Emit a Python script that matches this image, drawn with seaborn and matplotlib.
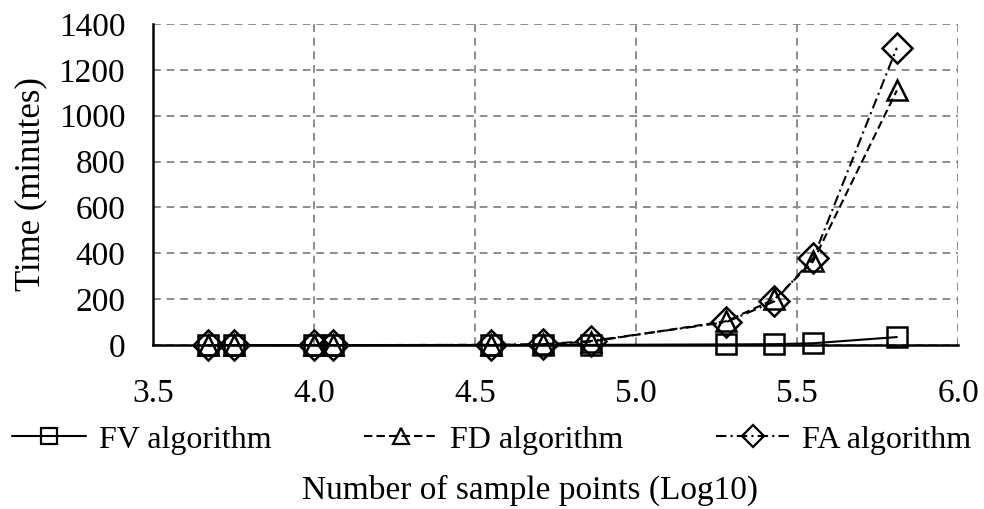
import pandas as pd
import seaborn as sns
import matplotlib.pyplot as plt

# Values
log_n = [3.67, 3.75, 4.0, 4.06, 4.55, 4.71, 4.86, 5.28, 5.43, 5.55, 5.81]
fv_time = [0, 0, 0, 0, 0, 0, 1, 3, 4, 8, 35]
fd_time = [0, 0, 0, 0, 1, 3, 15, 104, 200, 365, 1110]
fa_time = [0, 0, 0, 0, 1, 4, 18, 100, 191, 378, 1296]
series_names = ["FV algorithm", "FD algorithm", "FA algorithm"]

df = pd.DataFrame({
    "x": log_n * 3,
    "time": fv_time + fd_time + fa_time,
    "algo": [series_names[0]] * len(log_n) + [series_names[1]] * len(log_n)
            + [series_names[2]] * len(log_n),
})

sns.set_style("white")
plt.rcParams['font.family'] = ['Liberation Serif', 'DejaVu Serif']
plt.rcParams['text.color'] = 'black'
plt.rcParams['xtick.color'] = 'black'
plt.rcParams['ytick.color'] = 'black'
plt.rcParams['axes.labelcolor'] = 'black'

fig, ax = plt.subplots(figsize=(9.84, 5.09), dpi=100)

sns.lineplot(data=df, x="x", y="time", style="algo", ax=ax,
             markers={"FV algorithm": "s", "FD algorithm": "^", "FA algorithm": "D"},
             dashes={"FV algorithm": "", "FD algorithm": (4, 2), "FA algorithm": (5, 2, 1, 2)},
             color="black", linewidth=1.5, markersize=15, markerfacecolor="none",
             markeredgecolor="black", markeredgewidth=1.8, legend=True,
             clip_on=False, zorder=5)

ax.set_xlim(3.5, 6.0)
ax.set_ylim(0, 1400)
ax.set_xticks([3.5, 4.0, 4.5, 5.0, 5.5, 6.0])
ax.set_xticklabels(["3.5", "4.0", "4.5", "5.0", "5.5", "6.0"])
ax.set_yticks(range(0, 1401, 200))
ax.tick_params(labelsize=24, length=0)
ax.tick_params(axis="x", pad=24)
ax.tick_params(axis="y", pad=20)
ax.grid(True, color="#8c8c8c", linestyle=(0, (4, 3)), linewidth=1.4)
for s in ["top", "right"]:
    ax.spines[s].set_visible(False)
for s in ["left", "bottom"]:
    ax.spines[s].set_color("black")
    ax.spines[s].set_linewidth(1.8)

ax.set_ylabel("Time (minutes)", fontsize=25, labelpad=8)
ax.set_xlabel("")
fig.text(0.539, 0.037, "Number of sample points (Log10)", ha="center", va="center",
         fontsize=24)

handles, labels = ax.get_legend_handles_labels()
for h in handles:
    h.set_markersize(11)
    h.set_markeredgewidth(1.6)
ax.legend(handles, labels, loc="center", bbox_to_anchor=(0.421, -0.295), ncol=3,
          frameon=False, fontsize=23, handlelength=2.3, handletextpad=0.4,
          columnspacing=2.9)

plt.subplots_adjust(left=0.1555, right=0.9736, top=0.953, bottom=0.322)
plt.savefig("out.png")
